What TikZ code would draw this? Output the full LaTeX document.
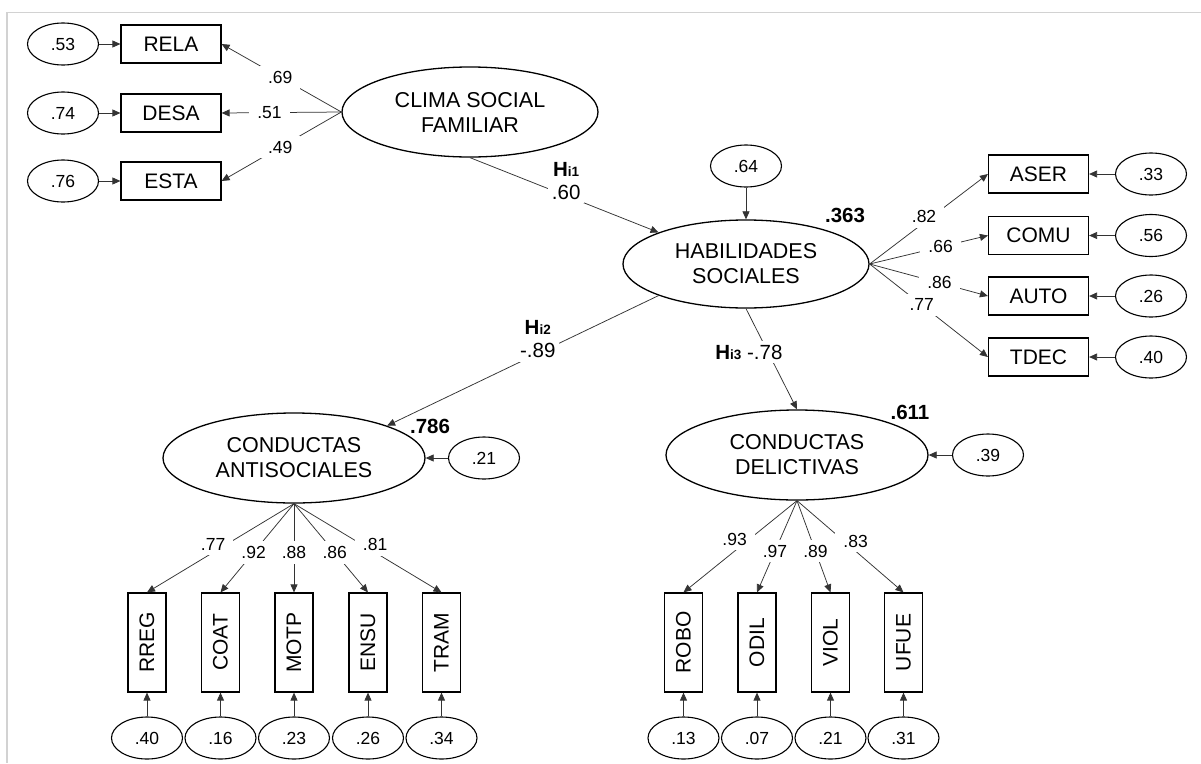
\documentclass[tikz,border=0pt]{standalone}
\usepackage{fontspec}
\setmainfont{Liberation Sans}
\usepackage{graphicx}
\usetikzlibrary{shapes.geometric,arrows.meta}
\newcommand{\myfN}{\fontsize{17.5}{20}\selectfont}
\newcommand{\myfL}{\fontsize{21.5}{25}\selectfont}
\newcommand{\myfB}{\fontsize{21}{23}\selectfont}
\newcommand{\myfP}{\fontsize{20.5}{23}\selectfont}
\newcommand{\myH}[1]{\textbf{H}{\bfseries\fontsize{13.5}{14}\selectfont i#1}}
\begin{document}
\begin{tikzpicture}[x=1pt,y=-1pt,
  lat/.style={ellipse,draw,line width=1.3pt,minimum width=262pt,minimum height=90pt,inner sep=0pt,align=center,font=\myfL},
  err/.style={ellipse,draw,line width=1.1pt,minimum width=71pt,minimum height=42pt,inner sep=0pt,font=\myfN},
  obs/.style={rectangle,draw,line width=1.2pt,minimum width=100pt,minimum height=38pt,inner sep=0pt,font=\myfB},
  vobs/.style={rectangle,draw,line width=1.2pt,minimum width=38pt,minimum height=99pt,inner sep=0pt,font=\myfB},
  arr/.style={draw=black!80,line width=0.75pt,-{Triangle[length=8pt,width=7pt]}},
  lab/.style={fill=white,inner xsep=8pt,inner ysep=5pt,font=\myfN},
  hyplab/.style={fill=white,inner sep=4pt,align=center,font=\myfP},
  rsq/.style={font=\bfseries\myfP}
]
\useasboundingbox (0,0) rectangle (1201,763);
\fill[white] (0,0) rectangle (1201,763);
\draw[gray!35,line width=1.5pt] (1201,12.5) -- (7,12.5) -- (7,763);

% ---- latent variables
\node[lat,minimum width=256pt] (clima) at (470,112) {CLIMA SOCIAL\\FAMILIAR};
\node[lat,minimum width=246pt,minimum height=88pt] (hab) at (746,264) {HABILIDADES\\SOCIALES};
\node[lat] (anti) at (294,458) {CONDUCTAS\\ANTISOCIALES};
\node[lat] (del) at (797,455) {CONDUCTAS\\DELICTIVAS};

% ---- left indicators
\node[obs] (rela) at (171,44) {RELA};
\node[obs] (desa) at (171,113) {DESA};
\node[obs] (esta) at (171,181) {ESTA};
\node[err] (e53) at (63,44) {.53};
\node[err] (e74) at (63,113) {.74};
\node[err] (e76) at (63,181) {.76};

% ---- right indicators
\node[obs] (aser) at (1038.5,174) {ASER};
\node[obs] (comu) at (1038.5,235.5) {COMU};
\node[obs] (auto) at (1038.5,296) {AUTO};
\node[obs] (tdec) at (1038.5,357) {TDEC};
\node[err] (e33) at (1151,174) {.33};
\node[err] (e56) at (1151,235.5) {.56};
\node[err] (e26) at (1151,296) {.26};
\node[err] (e40) at (1151,357) {.40};

% ---- disturbances
\node[err] (e64) at (746,166) {.64};
\node[err] (e21) at (484,458) {.21};
\node[err] (e39) at (988,455) {.39};

% ---- bottom indicators
\node[vobs] (rreg) at (147,642.5) {\rotatebox{90}{RREG}};
\node[vobs] (coat) at (220.5,642.5) {\rotatebox{90}{COAT}};
\node[vobs] (motp) at (294,642.5) {\rotatebox{90}{MOTP}};
\node[vobs] (ensu) at (368,642.5) {\rotatebox{90}{ENSU}};
\node[vobs] (tram) at (441.5,642.5) {\rotatebox{90}{TRAM}};
\node[vobs] (robo) at (683.5,642.5) {\rotatebox{90}{ROBO}};
\node[vobs] (odil) at (757,642.5) {\rotatebox{90}{ODIL}};
\node[vobs] (viol) at (830.5,642.5) {\rotatebox{90}{VIOL}};
\node[vobs] (ufue) at (903.5,642.5) {\rotatebox{90}{UFUE}};
\node[err] (e40b) at (147,738) {.40};
\node[err] (e16) at (220.5,738) {.16};
\node[err] (e23) at (294,738) {.23};
\node[err] (e26b) at (368,738) {.26};
\node[err] (e34) at (441.5,738) {.34};
\node[err] (e13) at (683.5,738) {.13};
\node[err] (e07) at (757,738) {.07};
\node[err] (e21b) at (830.5,738) {.21};
\node[err] (e31) at (903.5,738) {.31};

% ---- R squared
\node[rsq] (r363) at (845,215) {.363};
\node[rsq] (r786) at (430,426) {.786};
\node[rsq] (r611) at (910,412) {.611};

% ---- error arrows
\draw[arr] (e53) -- (rela);
\draw[arr] (e74) -- (desa);
\draw[arr] (e76) -- (esta);
\draw[arr] (e33) -- (aser);
\draw[arr] (e56) -- (comu);
\draw[arr] (e26) -- (auto);
\draw[arr] (e40) -- (tdec);
\draw[arr] (e64) -- (hab);
\draw[arr] (e21) -- (anti);
\draw[arr] (e39) -- (del);
\foreach \e/\b in {e40b/rreg,e16/coat,e23/motp,e26b/ensu,e34/tram,e13/robo,e07/odil,e21b/viol,e31/ufue}
  \draw[arr] (\e) -- (\b);

% ---- loadings
\draw[arr] (clima.west) -- node[lab,pos=.51]{.69} (rela.east);
\draw[arr] (clima.west) -- node[lab,pos=.6]{.51} (desa.east);
\draw[arr] (clima.west) -- node[lab,pos=.51]{.49} (esta.east);

\draw[arr] (hab.east) -- node[lab,pos=.46,yshift=6pt]{.82} (aser.west);
\draw[arr] (hab.east) -- node[lab,pos=.6]{.66} (comu.west);
\draw[arr] (hab.east) -- node[lab,pos=.59]{.86} (auto.west);
\draw[arr] (hab.east) -- node[lab,pos=.44]{.77} (tdec.west);

\draw[arr] (anti.south) -- node[lab,pos=.55,yshift=8pt]{.77} (rreg.north);
\draw[arr] (anti.south) -- node[lab,pos=.55]{.92} (coat.north);
\draw[arr] (anti.south) -- node[lab,pos=.55]{.88} (motp.north);
\draw[arr] (anti.south) -- node[lab,pos=.55]{.86} (ensu.north);
\draw[arr] (anti.south) -- node[lab,pos=.55,yshift=8pt]{.81} (tram.north);

\draw[arr] (del.south) -- node[lab,pos=.55,yshift=12pt]{.93} (robo.north);
\draw[arr] (del.south) -- node[lab,pos=.55]{.97} (odil.north);
\draw[arr] (del.south) -- node[lab,pos=.55]{.89} (viol.north);
\draw[arr] (del.south) -- node[lab,pos=.55,yshift=10pt]{.83} (ufue.north);

% ---- structural paths
\draw[arr] (clima.south) -- node[hyplab,pos=.51,yshift=15pt]{\myH{1}\\.60} (hab.north west);
\draw[arr] (hab.south west) -- node[hyplab,pos=.445,yshift=14pt]{\myH{2}\\-.89} (anti.north east);
\draw[arr] (hab.south) -- node[hyplab,pos=.43,xshift=-19pt]{\myH{3} -.78} (del.north);
\end{tikzpicture}
\end{document}
